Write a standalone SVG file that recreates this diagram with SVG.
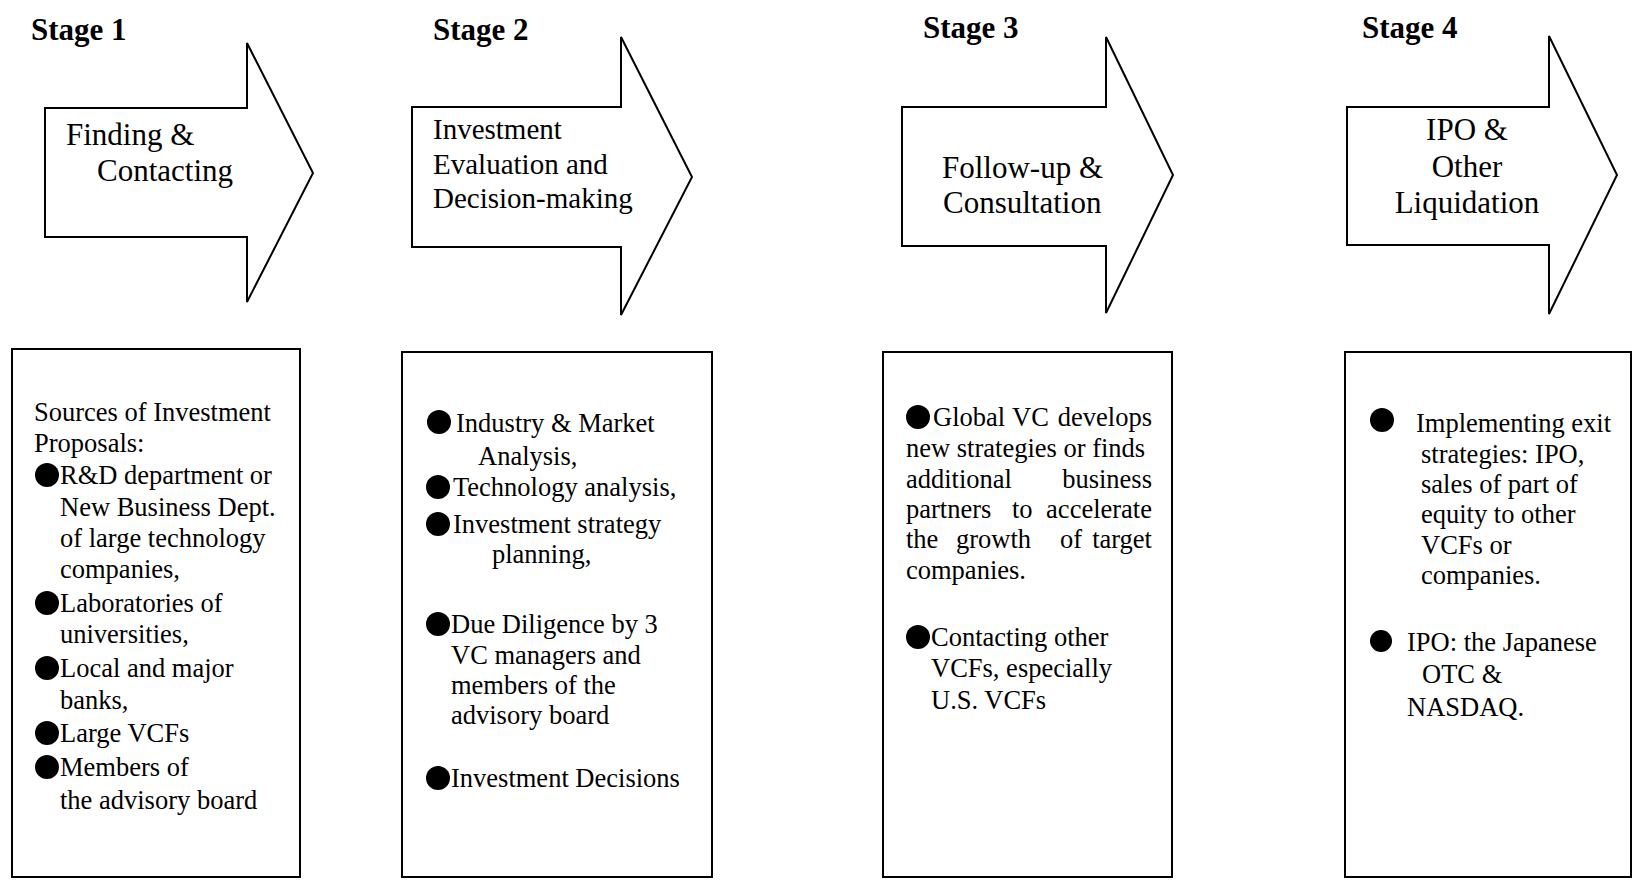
<svg xmlns="http://www.w3.org/2000/svg" width="1634" height="880" viewBox="0 0 1634 880">
  <style>
    .shape { fill: #ffffff; stroke: #000000; stroke-width: 2; stroke-linejoin: miter; }
    .stage { font-family: "Liberation Serif", "Times New Roman", serif; font-weight: bold; font-size: 31px; fill: #000; }
    .title { font-family: "Liberation Serif", "Times New Roman", serif; font-size: 31px; fill: #000; }
    .title2 { font-family: "Liberation Serif", "Times New Roman", serif; font-size: 29px; fill: #000; }
    .body { font-family: "Liberation Serif", "Times New Roman", serif; font-size: 26.5px; fill: #000; }
    .bullet { fill: #000; }
  </style>
  <rect x="0" y="0" width="1634" height="880" fill="#ffffff"/>

  <!-- Stage 1 -->
  <g id="stage1">
    <text class="stage" x="31" y="40">Stage 1</text>
    <polygon class="shape" points="45,108 247,108 247,43 313,173 247,302 247,237 45,237"/>
    <text class="title" x="66" y="145">Finding &amp;</text>
    <text class="title" x="97" y="181">Contacting</text>
  </g>

  <!-- Stage 2 -->
  <g id="stage2">
    <text class="stage" x="433" y="40">Stage 2</text>
    <polygon class="shape" points="412,107 621,107 621,37 692,177 621,315 621,247 412,247"/>
    <text class="title2" x="433" y="139">Investment</text>
    <text class="title2" x="433" y="174">Evaluation and</text>
    <text class="title2" x="433" y="208">Decision-making</text>
  </g>

  <!-- Stage 3 -->
  <g id="stage3">
    <text class="stage" x="923" y="38">Stage 3</text>
    <polygon class="shape" points="902,107 1106,107 1106,37 1173,175 1106,313 1106,246 902,246"/>
    <text class="title" x="942" y="178">Follow-up &amp;</text>
    <text class="title" x="943" y="213">Consultation</text>
  </g>

  <!-- Stage 4 -->
  <g id="stage4">
    <text class="stage" x="1362" y="38">Stage 4</text>
    <polygon class="shape" points="1347,107 1549,107 1549,36 1617,175 1549,314 1549,245 1347,245"/>
    <text class="title" x="1467" y="140" text-anchor="middle">IPO &amp;</text>
    <text class="title" x="1467" y="177" text-anchor="middle">Other</text>
    <text class="title" x="1467" y="213" text-anchor="middle">Liquidation</text>
  </g>

  <!-- Detail box 1: sources of proposals -->
  <g id="box1">
    <rect class="shape" x="12" y="349" width="288" height="528"/>
    <text class="body" x="34" y="421">Sources of Investment</text>
    <text class="body" x="34" y="452">Proposals:</text>
    <circle class="bullet" cx="47" cy="475" r="12"/>
    <text class="body" x="60" y="484">R&amp;D department or</text>
    <text class="body" x="60" y="516">New Business Dept.</text>
    <text class="body" x="60" y="547">of large technology</text>
    <text class="body" x="60" y="578">companies,</text>
    <circle class="bullet" cx="47" cy="603" r="12"/>
    <text class="body" x="60" y="612">Laboratories of</text>
    <text class="body" x="60" y="643">universities,</text>
    <circle class="bullet" cx="47" cy="668" r="12"/>
    <text class="body" x="60" y="677">Local and major</text>
    <text class="body" x="60" y="709">banks,</text>
    <circle class="bullet" cx="47" cy="733" r="12"/>
    <text class="body" x="60" y="742">Large VCFs</text>
    <circle class="bullet" cx="47" cy="767" r="12"/>
    <text class="body" x="60" y="776">Members of</text>
    <text class="body" x="60" y="809">the advisory board</text>
  </g>

  <!-- Detail box 2: evaluation steps -->
  <g id="box2">
    <rect class="shape" x="402" y="352" width="310" height="525"/>
    <circle class="bullet" cx="439" cy="422" r="12"/>
    <text class="body" x="456" y="432">Industry &amp; Market</text>
    <text class="body" x="478" y="465">Analysis,</text>
    <circle class="bullet" cx="438" cy="487" r="12"/>
    <text class="body" x="453" y="496">Technology analysis,</text>
    <circle class="bullet" cx="438" cy="524" r="12"/>
    <text class="body" x="453" y="533">Investment strategy</text>
    <text class="body" x="492" y="563">planning,</text>
    <circle class="bullet" cx="438" cy="624" r="12"/>
    <text class="body" x="451" y="633">Due Diligence by 3</text>
    <text class="body" x="451" y="664">VC managers and</text>
    <text class="body" x="451" y="694">members of the</text>
    <text class="body" x="451" y="724">advisory board</text>
    <circle class="bullet" cx="438" cy="778" r="12"/>
    <text class="body" x="451" y="787">Investment Decisions</text>
  </g>

  <!-- Detail box 3: follow-up activities (justified paragraph) -->
  <g id="box3">
    <rect class="shape" x="883" y="352" width="289" height="525"/>
    <circle class="bullet" cx="918" cy="417" r="12"/>
    <text class="body" y="426"><tspan x="933">Global</tspan><tspan x="1012">VC</tspan><tspan x="1152" text-anchor="end">develops</tspan></text>
    <text class="body" x="906" y="457">new strategies or finds</text>
    <text class="body" y="488"><tspan x="906">additional</tspan><tspan x="1152" text-anchor="end">business</tspan></text>
    <text class="body" y="518"><tspan x="906">partners</tspan><tspan x="1012">to</tspan><tspan x="1152" text-anchor="end">accelerate</tspan></text>
    <text class="body" y="548"><tspan x="906">the</tspan><tspan x="956">growth</tspan><tspan x="1060">of</tspan><tspan x="1152" text-anchor="end">target</tspan></text>
    <text class="body" x="906" y="579">companies.</text>
    <circle class="bullet" cx="918" cy="637" r="12"/>
    <text class="body" x="931" y="646">Contacting other</text>
    <text class="body" x="931" y="677">VCFs, especially</text>
    <text class="body" x="931" y="709">U.S. VCFs</text>
  </g>

  <!-- Detail box 4: exit routes -->
  <g id="box4">
    <rect class="shape" x="1345" y="352" width="286" height="525"/>
    <circle class="bullet" cx="1382" cy="420" r="12"/>
    <text class="body" x="1416" y="432">Implementing exit</text>
    <text class="body" x="1421" y="463">strategies: IPO,</text>
    <text class="body" x="1421" y="493">sales of part of</text>
    <text class="body" x="1421" y="523">equity to other</text>
    <text class="body" x="1421" y="554">VCFs or</text>
    <text class="body" x="1421" y="584">companies.</text>
    <circle class="bullet" cx="1381" cy="641" r="11"/>
    <text class="body" x="1407" y="651">IPO: the Japanese</text>
    <text class="body" x="1422" y="683">OTC &amp;</text>
    <text class="body" x="1407" y="716">NASDAQ.</text>
  </g>

  <g id="connectors"/>
</svg>
